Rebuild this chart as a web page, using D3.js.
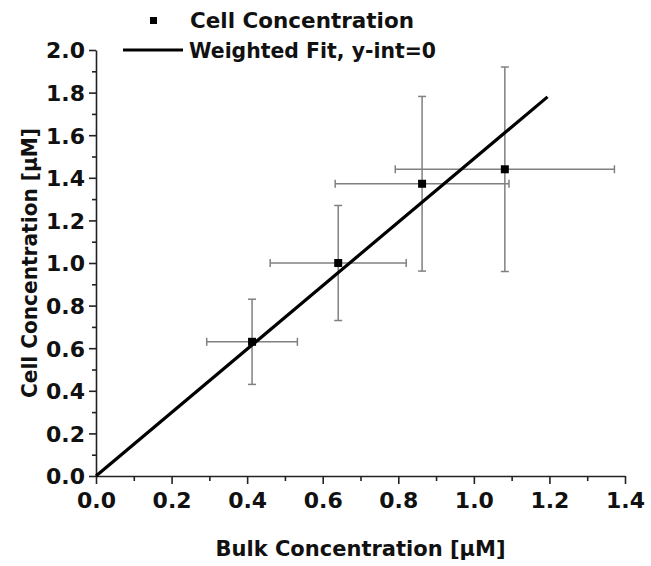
<!DOCTYPE html>
<html lang="en">
<head>
<meta charset="utf-8">
<title>cell vs bulk</title>
<style>
    body { margin: 0; background: #fff; }
    svg text { font-family: "DejaVu Sans", "Liberation Sans", Arial, sans-serif; font-weight: bold; fill: #111; }
    .axis path, .axis line { stroke: #222; stroke-width: 1.6px; }
    .err { stroke: #808080; stroke-width: 1.5px; }
</style>
</head>
<body>
<div id="chart"></div>
<script src="https://cdn.jsdelivr.net/npm/d3@7"></script>
<script>
// values
var bulk = [0.413, 0.641, 0.863, 1.082];
var bulkErr = [0.12, 0.18, 0.23, 0.29];
var cell = [0.63, 1.0, 1.372, 1.44];
var cellErr = [0.2, 0.27, 0.41, 0.48];
var fitX = [0, 1.195];
var fitY = [0, 1.78];
var xTicks = [0, 0.2, 0.4, 0.6, 0.8, 1.0, 1.2, 1.4];
var yTicks = [0, 0.2, 0.4, 0.6, 0.8, 1.0, 1.2, 1.4, 1.6, 1.8, 2.0];
var xMinor = [0.1, 0.3, 0.5, 0.7, 0.9, 1.1, 1.3];
var yMinor = [0.1, 0.3, 0.5, 0.7, 0.9, 1.1, 1.3, 1.5, 1.7, 1.9];

var width = 651, height = 566;
var svg = d3.select('#chart').append('svg')
    .attr('width', width).attr('height', height);

var x = d3.scaleLinear().domain([0, 1.4]).range([96, 625]);
var y = d3.scaleLinear().domain([0, 2.0]).range([476, 50]);
var fmt = d3.format('.1f');

// minor ticks
svg.append('g').attr('class', 'axis')
    .attr('transform', 'translate(0,' + y(0) + ')')
    .call(d3.axisBottom(x).tickValues(xMinor).tickSize(5).tickFormat(''))
    .select('.domain').remove();
svg.append('g').attr('class', 'axis')
    .attr('transform', 'translate(' + x(0) + ',0)')
    .call(d3.axisLeft(y).tickValues(yMinor).tickSize(4).tickFormat(''))
    .select('.domain').remove();

// major axes
var gx = svg.append('g').attr('class', 'axis')
    .attr('transform', 'translate(0,' + y(0) + ')')
    .call(d3.axisBottom(x).tickValues(xTicks).tickSize(8).tickSizeOuter(0).tickPadding(5).tickFormat(fmt));
gx.selectAll('text').style('font-size', '22px').attr('dy', '0.85em');

var gy = svg.append('g').attr('class', 'axis')
    .attr('transform', 'translate(' + x(0) + ',0)')
    .call(d3.axisLeft(y).tickValues(yTicks).tickSize(7).tickSizeOuter(0).tickPadding(4).tickFormat(fmt));
gy.selectAll('text').style('font-size', '22px').attr('dy', '0.36em');

// error bars
var pts = bulk.map(function (b, i) {
    return { x: b, y: cell[i], ex: bulkErr[i], ey: cellErr[i] };
});
var cap = 4;
var eb = svg.append('g');
pts.forEach(function (d) {
    var px = x(d.x), py = y(d.y);
    var x1 = x(d.x - d.ex), x2 = x(d.x + d.ex);
    var y1 = y(d.y + d.ey), y2 = y(d.y - d.ey);
    eb.append('line').attr('class', 'err').attr('x1', x1).attr('x2', x2).attr('y1', py).attr('y2', py);
    eb.append('line').attr('class', 'err').attr('x1', px).attr('x2', px).attr('y1', y1).attr('y2', y2);
    eb.append('line').attr('class', 'err').attr('x1', x1).attr('x2', x1).attr('y1', py - cap).attr('y2', py + cap);
    eb.append('line').attr('class', 'err').attr('x1', x2).attr('x2', x2).attr('y1', py - cap).attr('y2', py + cap);
    eb.append('line').attr('class', 'err').attr('x1', px - cap).attr('x2', px + cap).attr('y1', y1).attr('y2', y1);
    eb.append('line').attr('class', 'err').attr('x1', px - cap).attr('x2', px + cap).attr('y1', y2).attr('y2', y2);
});

// fit line
var fit = fitX.map(function (v, i) { return [v, fitY[i]]; });
svg.append('path')
    .datum(fit)
    .attr('d', d3.line().x(function (d) { return x(d[0]); }).y(function (d) { return y(d[1]); }))
    .attr('fill', 'none').attr('stroke', '#000').attr('stroke-width', 3.2);

// markers
var ms = 8;
svg.selectAll('rect.pt').data(pts).enter()
    .append('rect').attr('class', 'pt')
    .attr('x', function (d) { return x(d.x) - ms / 2; })
    .attr('y', function (d) { return y(d.y) - ms / 2; })
    .attr('width', ms).attr('height', ms)
    .attr('fill', '#000');

// legend
svg.append('rect').attr('x', 150).attr('y', 17).attr('width', 7).attr('height', 7).attr('fill', '#000');
svg.append('text').attr('x', 190).attr('y', 28).style('font-size', '21px')
    .attr('textLength', 224).attr('lengthAdjust', 'spacingAndGlyphs')
    .text('Cell Concentration');
svg.append('line').attr('x1', 123).attr('x2', 183).attr('y1', 50).attr('y2', 50)
    .attr('stroke', '#000').attr('stroke-width', 3.2);
svg.append('text').attr('x', 189).attr('y', 58).style('font-size', '21px')
    .attr('textLength', 247).attr('lengthAdjust', 'spacingAndGlyphs')
    .text('Weighted Fit, y-int=0');

// axis titles
svg.append('text')
    .attr('x', (x(0) + x(1.4)) / 2).attr('y', 556)
    .attr('text-anchor', 'middle').style('font-size', '21px')
    .attr('textLength', 290).attr('lengthAdjust', 'spacingAndGlyphs')
    .text('Bulk Concentration [\u03BCM]');
svg.append('text')
    .attr('transform', 'translate(37,' + ((y(0) + y(2)) / 2) + ') rotate(-90)')
    .attr('text-anchor', 'middle').style('font-size', '21px')
    .attr('textLength', 270).attr('lengthAdjust', 'spacingAndGlyphs')
    .text('Cell Concentration [\u03BCM]');
</script>
</body>
</html>
